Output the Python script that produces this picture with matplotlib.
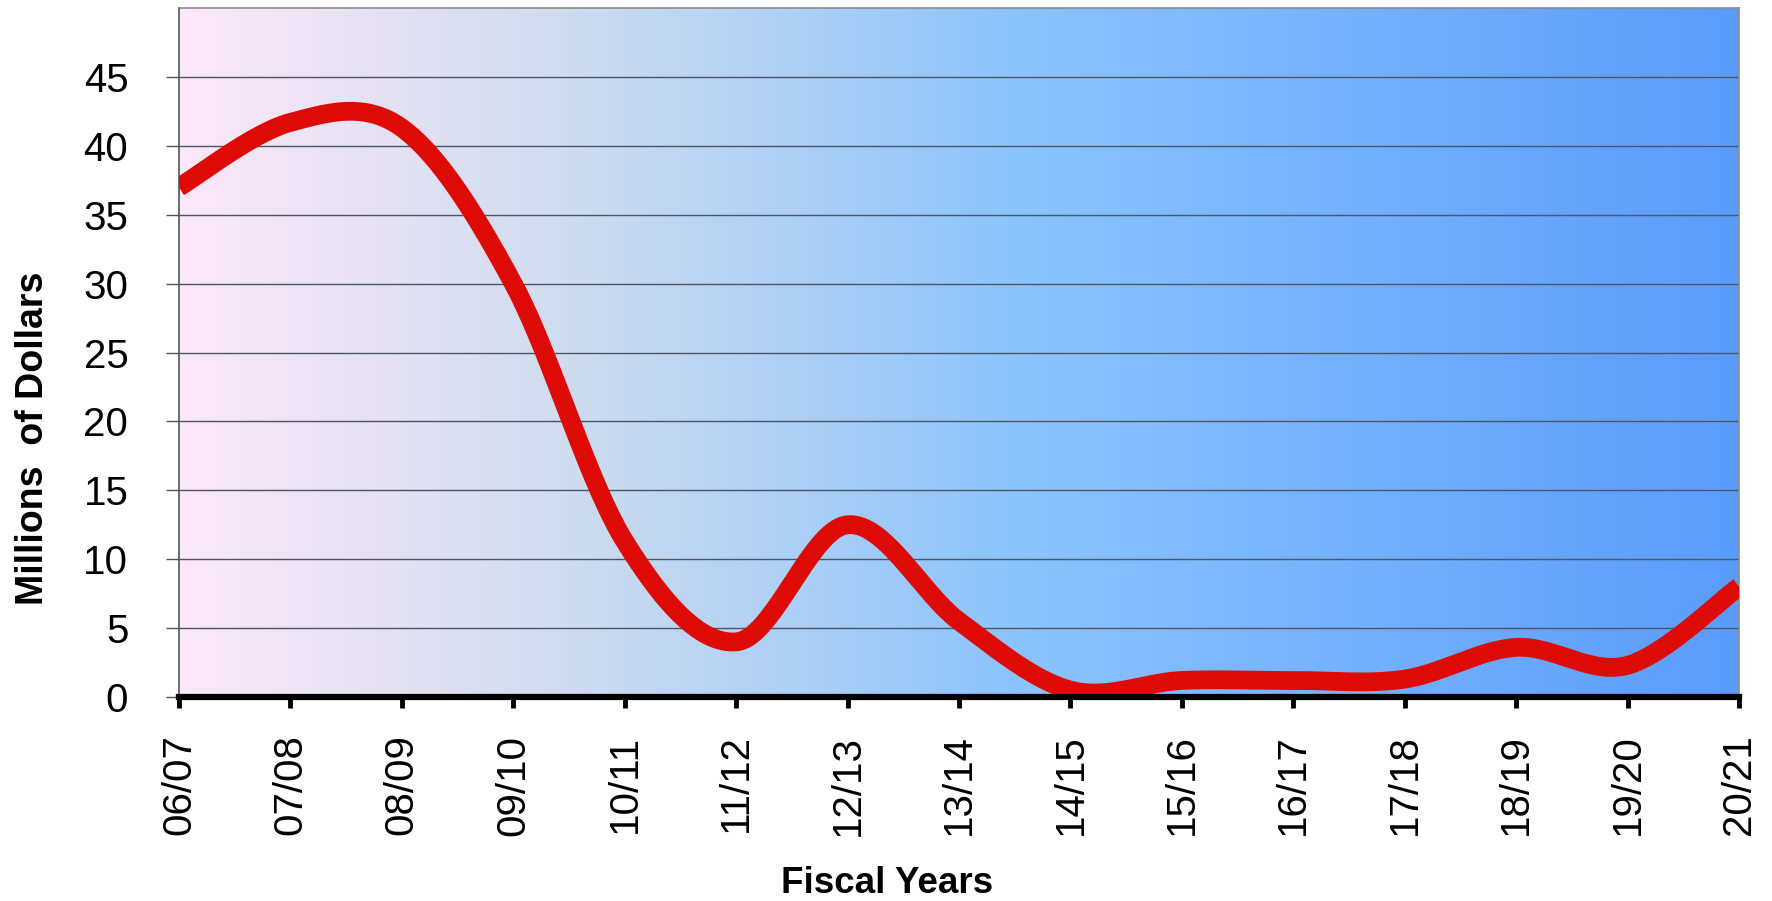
import numpy as np
import matplotlib
matplotlib.use("Agg")
import matplotlib.pyplot as plt
from matplotlib.colors import LinearSegmentedColormap

plt.rcParams['font.family'] = ['Liberation Sans', 'DejaVu Sans']

# Fiscal years and amounts (millions of dollars)
fiscal_years = ["06/07", "07/08", "08/09", "09/10", "10/11", "11/12", "12/13",
                "13/14", "14/15", "15/16", "16/17", "17/18", "18/19", "19/20", "20/21"]
amounts = [37.0, 41.7, 41.3, 30.0, 11.3, 4.0, 12.5, 5.5, 0.5, 1.2, 1.2, 1.3, 3.6, 2.3, 8.0]
y_ticks = [0, 5, 10, 15, 20, 25, 30, 35, 40, 45]

W, H, DPI = 1772, 901, 100
fig = plt.figure(figsize=(W / DPI, H / DPI), dpi=DPI)
ax = fig.add_axes([179 / W, 1 - 697 / H, (1739 - 179) / W, (697 - 8) / H])

n = len(fiscal_years)
x = np.arange(n)
ax.set_xlim(0, n - 1)
ax.set_ylim(0, 50)

# Horizontal background gradient: pink -> light blue -> blue
grad = LinearSegmentedColormap.from_list(
    "bg", [(0.0, "#fce8f8"), (0.25, "#cfdcef"), (0.53, "#8cc4fc"), (1.0, "#5a9cfc")])
ax.imshow(np.linspace(0, 1, 512).reshape(1, -1), cmap=grad, aspect="auto",
          extent=(0, 1, 0, 1), transform=ax.transAxes, zorder=0)

# Gridlines
for v in y_ticks[1:]:
    ax.axhline(v, color="#4a5566", lw=1.0, zorder=1)

# Smoothed line (Catmull-Rom through the points in display space)
pts = ax.transData.transform(np.column_stack([x, amounts]))
P = np.vstack([pts[0], pts, pts[-1]])
curve = []
for i in range(1, len(P) - 2):
    p0, p1, p2, p3 = P[i - 1], P[i], P[i + 1], P[i + 2]
    c1 = p1 + (p2 - p0) / 6.0
    c2 = p2 - (p3 - p1) / 6.0
    t = np.linspace(0, 1, 40)[:, None]
    seg = ((1 - t) ** 3) * p1 + 3 * ((1 - t) ** 2) * t * c1 + 3 * (1 - t) * t ** 2 * c2 + t ** 3 * p2
    curve.append(seg if i == 1 else seg[1:])
curve = ax.transData.inverted().transform(np.vstack(curve))
ax.plot(curve[:, 0], curve[:, 1], color="#de0a05", lw=13.5,
        solid_capstyle="butt", solid_joinstyle="round", zorder=3)

# Axes styling
for side in ("top", "right", "left"):
    ax.spines[side].set_color("#8c8c8c")
    ax.spines[side].set_linewidth(1.2)
ax.spines["left"].set_color("#555555")
ax.spines["bottom"].set_color("black")
ax.spines["bottom"].set_linewidth(4.5)
ax.spines["bottom"].set_zorder(5)

ax.set_yticks(y_ticks)
ax.set_yticklabels([str(v) for v in y_ticks])
ax.set_xticks(x)
ax.set_xticklabels(fiscal_years, rotation=90)
ax.tick_params(axis="y", direction="out", length=9.5, width=1.0, color="#555555",
               labelsize=29, pad=27)
ax.tick_params(axis="x", direction="out", length=8, width=3.5, color="black",
               labelsize=29, pad=19)

fig.text(887 / W, 1 - 893 / H, "Fiscal Years", fontsize=26.5, fontweight="bold",
         ha="center", va="baseline")
fig.text(33 / W, 1 - 438 / H, "Millions  of Dollars", fontsize=27, fontweight="bold",
         rotation=90, ha="center", va="center")

fig.savefig("out.png", dpi=DPI, facecolor="white")
